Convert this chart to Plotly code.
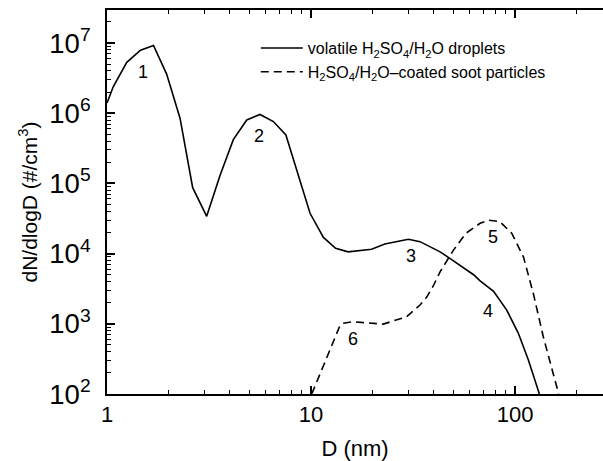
import math
import plotly.graph_objects as go

# Volatile H2SO4/H2O droplets (solid curve)
d_volatile = [1.0, 1.074, 1.25, 1.46, 1.69, 1.96, 2.28, 2.63, 3.08, 3.58, 4.16, 4.84,
              5.62, 6.54, 7.53, 9.89, 11.5, 13.2, 15.2, 19.8, 23.0, 30.0, 34.2, 42.9,
              48.1, 62.6, 67.4, 78.5, 91.0, 103.8, 116.2, 131.6]
n_volatile = [1.4e6, 2.4e6, 5.3e6, 7.9e6, 9.2e6, 3.6e6, 8.5e5, 8.7e4, 3.4e4, 1.3e5, 4.2e5, 8.0e5,
              9.6e5, 7.6e5, 4.9e5, 3.75e4, 1.7e4, 1.19e4, 1.06e4, 1.15e4, 1.37e4, 1.6e4, 1.48e4, 1.06e4,
              8.5e3, 5.0e3, 4.1e3, 2.9e3, 1.57e3, 733, 305, 100]

# H2SO4/H2O-coated soot particles (dashed curve)
d_soot = [10.08, 13.9, 14.4, 16.1, 22.6, 29.4, 34.2, 36.9, 39.6, 42.9, 49.9, 57.5,
          67.4, 74.0, 84.2, 96.3, 109.9, 122.9, 137.5, 163.6]
n_soot = [100, 960, 1.02e3, 1.07e3, 990, 1.26e3, 1.85e3, 2.4e3, 3.4e3, 5.5e3, 1.12e4, 1.95e4,
          2.7e4, 3.0e4, 2.85e4, 1.95e4, 9.0e3, 2.7e3, 655, 100]

# Mode labels
mode_text = ["1", "2", "3", "4", "5", "6"]
mode_d = [1.50, 5.56, 30.8, 73.6, 78.0, 16.0]
mode_n = [3.9e6, 4.7e5, 9.2e3, 1.5e3, 1.7e4, 610]

FONT = "Arial, Liberation Sans, Helvetica, sans-serif"

fig = go.Figure()
fig.add_trace(go.Scatter(
    x=d_volatile, y=n_volatile, mode="lines",
    line=dict(color="black", width=1.6),
    name="volatile H<sub>2</sub>SO<sub>4</sub>/H<sub>2</sub>O droplets"))
fig.add_trace(go.Scatter(
    x=d_soot, y=n_soot, mode="lines",
    line=dict(color="black", width=1.6, dash="8px,5px"),
    name="H<sub>2</sub>SO<sub>4</sub>/H<sub>2</sub>O\u2013coated soot particles"))

# annotations on log axes are positioned in log10 units
for t, xd, yn in zip(mode_text, mode_d, mode_n):
    fig.add_annotation(x=math.log10(xd), y=math.log10(yn), xref="x", yref="y",
                       text=t, showarrow=False,
                       font=dict(size=18, color="black", family=FONT))

fig.update_layout(
    width=603, height=461,
    margin=dict(l=107, r=0, t=10, b=67),
    paper_bgcolor="white", plot_bgcolor="white",
    font=dict(family=FONT, color="black"),
    legend=dict(x=0.3, y=0.945, xanchor="left", yanchor="top",
                bgcolor="rgba(0,0,0,0)", font=dict(size=16, family=FONT),
                itemwidth=42, tracegroupgap=0),
    showlegend=True,
)

fig.update_xaxes(
    type="log", range=[0, 2.431], dtick=1,
    showline=True, linecolor="black", linewidth=2, mirror="ticks",
    ticks="inside", ticklen=8, tickwidth=1.5, tickcolor="black",
    minor=dict(ticks="inside", ticklen=4, tickwidth=1.2, tickcolor="black", showgrid=False),
    showgrid=False, zeroline=False,
    tickfont=dict(size=22, family=FONT),
    title=dict(text="D (nm)", font=dict(size=22, family=FONT), standoff=14),
)
fig.update_yaxes(
    type="log", range=[2, 7.47], dtick=1, exponentformat="power",
    showline=True, linecolor="black", linewidth=2, mirror=False,
    ticks="inside", ticklen=8, tickwidth=1.5, tickcolor="black",
    minor=dict(ticks="inside", ticklen=4, tickwidth=1.2, tickcolor="black", showgrid=False),
    showgrid=False, zeroline=False,
    tickfont=dict(size=22, family=FONT), ticklabelstandoff=10,
    title=dict(text="dN/dlogD (#/cm<sup>3</sup>)", font=dict(size=21, family=FONT), standoff=6),
)

fig.write_html("out.html")
